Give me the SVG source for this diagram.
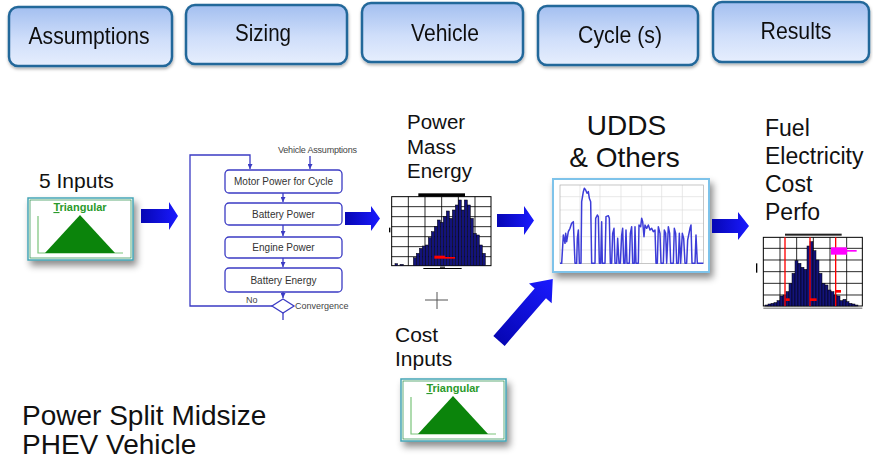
<svg xmlns="http://www.w3.org/2000/svg" width="873" height="470" viewBox="0 0 873 470">
<defs>
<style>
.btn{fill:url(#btnG);stroke:#23679a;stroke-width:2.5}
.bt{font-family:"Liberation Sans",Arial,sans-serif;font-size:24px;fill:#111;text-anchor:middle}
.lbl{font-family:"Liberation Sans",Arial,sans-serif;fill:#111}
.fbox{fill:#fff;stroke:#3b3bc4;stroke-width:1.3}
.ft{font-family:"Liberation Sans",Arial,sans-serif;font-size:10px;fill:#333;text-anchor:middle}
.fs{font-family:"Liberation Sans",Arial,sans-serif;font-size:9px;fill:#444}
.fl{fill:none;stroke:#3b3bc4;stroke-width:1.3}
.arr{fill:url(#arrG)}
.bar{fill:#13137a;stroke:#000;stroke-width:1.5}
.grid{stroke:#000;stroke-width:2.5}
.cg{stroke:#dcdcdc;stroke-width:2}
</style>
<linearGradient id="btnG" x1="0" y1="0" x2="0" y2="1">
<stop offset="0" stop-color="#a3bff0"/>
<stop offset="0.55" stop-color="#cfdefa"/>
<stop offset="1" stop-color="#e6eefd"/>
</linearGradient>
<linearGradient id="arrG" x1="0" y1="0" x2="1" y2="0">
<stop offset="0" stop-color="#0606b4"/>
<stop offset="1" stop-color="#1a1aff"/>
</linearGradient>
<filter id="sh" x="-20%" y="-20%" width="150%" height="160%">
<feDropShadow dx="3" dy="5" stdDeviation="3.5" flood-color="#000" flood-opacity="0.45"/>
</filter>
<filter id="bsh" x="-10%" y="-10%" width="120%" height="140%">
<feDropShadow dx="0.5" dy="2" stdDeviation="1.5" flood-color="#000" flood-opacity="0.3"/>
</filter>
<marker id="ah" viewBox="0 0 6 6" refX="6" refY="3" markerWidth="5" markerHeight="5" markerUnits="userSpaceOnUse" orient="auto">
<path d="M0,0 L6,3 L0,6 z" fill="#3b3bc4"/>
</marker>
<g id="tri">
<rect x="0" y="0" width="105" height="62" fill="#fff" stroke="#45a5b5" stroke-width="1.5" filter="url(#sh)"/>
<rect x="2" y="2" width="101" height="58" fill="none" stroke="#3c9a5a" stroke-width="0.8"/>
<text x="52" y="13" text-anchor="middle" font-family="'Liberation Sans',Arial,sans-serif" font-size="11" font-weight="bold" fill="#2a9a2a"><tspan text-decoration="underline">T</tspan>riangular</text>
<polyline points="10,18 10,55 95,55" fill="none" stroke="#7ac47a" stroke-width="1.2"/>
<polygon points="17,55 52,17 87,55" fill="#0b840b"/>
</g>
</defs>
<rect width="873" height="470" fill="#fff"/>

<!-- Top buttons -->
<g id="btn-assumptions" filter="url(#bsh)">
<rect class="btn" x="9" y="7" width="163" height="59" rx="9"/>
<text class="bt" x="89" y="44" textLength="121" lengthAdjust="spacingAndGlyphs">Assumptions</text>
</g>
<g id="btn-sizing" filter="url(#bsh)">
<rect class="btn" x="186" y="5" width="161" height="59" rx="9"/>
<text class="bt" x="263" y="41" textLength="56" lengthAdjust="spacingAndGlyphs">Sizing</text>
</g>
<g id="btn-vehicle" filter="url(#bsh)">
<rect class="btn" x="362" y="3" width="161" height="59" rx="9"/>
<text class="bt" x="445" y="41" textLength="68" lengthAdjust="spacingAndGlyphs">Vehicle</text>
</g>
<g id="btn-cycle" filter="url(#bsh)">
<rect class="btn" x="538" y="6" width="160" height="59" rx="9"/>
<text class="bt" x="620" y="43" textLength="84" lengthAdjust="spacingAndGlyphs">Cycle (s)</text>
</g>
<g id="btn-results" filter="url(#bsh)">
<rect class="btn" x="713" y="2" width="156" height="60" rx="9"/>
<text class="bt" x="796" y="39" textLength="71" lengthAdjust="spacingAndGlyphs">Results</text>
</g>

<!-- 5 inputs -->
<g id="inputs5">
<text class="lbl" x="39" y="188" font-size="21">5 Inputs</text>
<use href="#tri" transform="translate(28,198)"/>
</g>

<!-- Sizing flowchart -->
<g id="sizing-flow">
<rect class="fbox" x="225" y="170" width="117" height="23" rx="4"/>
<text class="ft" x="283.5" y="185">Motor Power for Cycle</text>
<rect class="fbox" x="225" y="203" width="117" height="22" rx="4"/>
<text class="ft" x="283.5" y="218">Battery Power</text>
<rect class="fbox" x="225" y="237" width="117" height="21" rx="4"/>
<text class="ft" x="283.5" y="251">Engine Power</text>
<rect class="fbox" x="225" y="268" width="117" height="24" rx="4"/>
<text class="ft" x="283.5" y="284">Battery Energy</text>
<polygon points="283,299 294,306 283,313 272,306" fill="#fff" stroke="#3b3bc4" stroke-width="1.3"/>
<text class="fs" x="278" y="153" letter-spacing="-0.2">Vehicle Assumptions</text>
<text class="fs" x="246" y="303">No</text>
<text class="fs" x="295" y="309">Convergence</text>
</g>

<!-- Power/Mass/Energy histogram -->
<g id="vehicle-hist">
<text class="lbl" x="407" y="129" font-size="20.5">Power</text>
<text class="lbl" x="407" y="153.5" font-size="20.5">Mass</text>
<text class="lbl" x="407" y="178" font-size="20.5">Energy</text>
<g transform="translate(385,185) scale(0.33333)">
<rect x="20" y="35" width="298" height="207" fill="#fff" stroke="#000" stroke-width="3"/>
<g class="grid">
<line x1="70" y1="35" x2="70" y2="242"/><line x1="120" y1="35" x2="120" y2="242"/><line x1="170" y1="35" x2="170" y2="242"/><line x1="220" y1="35" x2="220" y2="242"/><line x1="270" y1="35" x2="270" y2="242"/>
<line x1="20" y1="65" x2="318" y2="65"/><line x1="20" y1="95" x2="318" y2="95"/><line x1="20" y1="125" x2="318" y2="125"/><line x1="20" y1="155" x2="318" y2="155"/><line x1="20" y1="185" x2="318" y2="185"/><line x1="20" y1="215" x2="318" y2="215"/>
</g>
<rect x="100" y="25" width="140" height="10" fill="#000"/>
<g class="bar">
<rect x="85" y="218" width="9" height="24"/><rect x="94" y="205" width="9" height="37"/><rect x="103" y="190" width="9" height="52"/><rect x="112" y="183" width="9" height="59"/><rect x="121" y="180" width="9" height="62"/><rect x="130" y="158" width="9" height="84"/><rect x="139" y="140" width="9" height="102"/><rect x="148" y="125" width="9" height="117"/><rect x="157" y="105" width="9" height="137"/><rect x="166" y="112" width="9" height="130"/><rect x="175" y="95" width="9" height="147"/><rect x="184" y="78" width="9" height="164"/><rect x="193" y="100" width="9" height="142"/><rect x="202" y="75" width="9" height="167"/><rect x="211" y="60" width="9" height="182"/><rect x="220" y="45" width="9" height="197"/><rect x="229" y="75" width="9" height="167"/><rect x="238" y="45" width="9" height="197"/><rect x="247" y="60" width="9" height="182"/><rect x="256" y="100" width="9" height="142"/><rect x="265" y="145" width="9" height="97"/><rect x="274" y="150" width="9" height="92"/><rect x="283" y="180" width="9" height="62"/><rect x="292" y="205" width="9" height="37"/>
<rect x="30" y="236" width="8" height="6"/><rect x="45" y="238" width="10" height="4"/>
</g>
<rect x="148" y="212" width="32" height="9" fill="#f00"/>
<rect x="180" y="216" width="30" height="5" fill="#f00"/>
<rect x="115" y="249" width="115" height="3" fill="#000"/>
<rect x="165" y="245" width="15" height="3" fill="#000"/>
<rect x="12" y="128" width="4" height="14" fill="#000"/>
</g>
</g>

<!-- UDDS cycle chart -->
<g id="cycle-chart">
<text class="lbl" x="626.5" y="135" font-size="28" text-anchor="middle">UDDS</text>
<text class="lbl" x="624.5" y="167" font-size="28" text-anchor="middle">&amp; Others</text>
<rect x="553" y="179" width="156" height="93" fill="#fff" stroke="#7ec3ea" stroke-width="2" filter="url(#sh)"/>
<g transform="translate(545,175) scale(0.33333)">
<g class="cg">
<line x1="105" y1="30" x2="105" y2="265"/><line x1="165" y1="30" x2="165" y2="265"/><line x1="228" y1="30" x2="228" y2="265"/><line x1="290" y1="30" x2="290" y2="265"/><line x1="350" y1="30" x2="350" y2="265"/><line x1="412" y1="30" x2="412" y2="265"/>
<line x1="45" y1="65" x2="475" y2="65"/><line x1="45" y1="105" x2="475" y2="105"/><line x1="45" y1="145" x2="475" y2="145"/><line x1="45" y1="185" x2="475" y2="185"/><line x1="45" y1="225" x2="475" y2="225"/>
</g>
<rect x="45" y="30" width="430" height="235" fill="none" stroke="#aaa" stroke-width="2"/>
<polyline fill="none" stroke="#3c3cd8" stroke-width="4.5" stroke-linejoin="round" points="45,265 50,265 55,180 60,205 62,175 65,200 70,170 75,160 80,145 85,140 90,265 95,265 97,190 100,165 103,265 108,265 110,80 115,50 118,40 122,45 126,55 130,50 133,70 137,80 140,265 150,265 152,130 157,120 160,125 163,265 167,265 170,140 172,265 180,265 183,125 190,122 193,130 196,265 200,265 203,175 207,160 210,265 215,265 218,190 222,265 226,265 230,180 233,160 236,265 240,265 243,165 246,265 253,265 256,175 260,155 263,265 268,265 270,155 273,265 280,265 282,150 287,155 290,130 293,140 297,185 300,150 305,160 310,150 315,165 320,160 325,170 330,165 333,265 337,265 340,155 345,175 348,265 355,265 358,165 362,175 365,265 370,155 374,175 377,265 385,265 388,160 392,175 395,265 400,265 403,175 407,265 412,175 416,190 420,265 425,265 428,195 432,175 435,160 438,150 441,265 450,265 453,180 457,265 475,265"/>
</g>
</g>

<!-- Results -->
<g id="results-hist">
<text class="lbl" x="765" y="136" font-size="23">Fuel</text>
<text class="lbl" x="765" y="164" font-size="23">Electricity</text>
<text class="lbl" x="765" y="192" font-size="23">Cost</text>
<text class="lbl" x="765" y="220" font-size="23">Perfo</text>
<g transform="translate(755,230) scale(0.33333)">
<rect x="25" y="22" width="297" height="206" fill="#fff" stroke="#000" stroke-width="3"/>
<g class="grid">
<line x1="75" y1="22" x2="75" y2="228"/><line x1="125" y1="22" x2="125" y2="228"/><line x1="175" y1="22" x2="175" y2="228"/><line x1="225" y1="22" x2="225" y2="228"/><line x1="275" y1="22" x2="275" y2="228"/>
<line x1="25" y1="55" x2="322" y2="55"/><line x1="25" y1="90" x2="322" y2="90"/><line x1="25" y1="125" x2="322" y2="125"/><line x1="25" y1="160" x2="322" y2="160"/><line x1="25" y1="195" x2="322" y2="195"/>
</g>
<rect x="90" y="11" width="170" height="6" fill="#222"/>
<g class="bar">
<rect x="30" y="225" width="9" height="3"/><rect x="39" y="222" width="9" height="6"/><rect x="48" y="220" width="9" height="8"/><rect x="57" y="218" width="9" height="10"/><rect x="66" y="212" width="9" height="16"/><rect x="75" y="198" width="9" height="30"/><rect x="84" y="195" width="9" height="33"/><rect x="93" y="185" width="9" height="43"/><rect x="102" y="160" width="9" height="68"/><rect x="111" y="130" width="9" height="98"/><rect x="120" y="92" width="9" height="136"/><rect x="129" y="100" width="9" height="128"/><rect x="138" y="112" width="9" height="116"/><rect x="147" y="118" width="9" height="110"/><rect x="156" y="48" width="9" height="180"/><rect x="165" y="35" width="9" height="193"/><rect x="174" y="62" width="9" height="166"/><rect x="183" y="90" width="9" height="138"/><rect x="192" y="130" width="9" height="98"/><rect x="201" y="160" width="9" height="68"/><rect x="210" y="165" width="9" height="63"/><rect x="219" y="180" width="9" height="48"/><rect x="228" y="185" width="9" height="43"/><rect x="237" y="195" width="9" height="33"/><rect x="246" y="198" width="9" height="30"/><rect x="255" y="212" width="9" height="16"/><rect x="264" y="208" width="9" height="20"/><rect x="273" y="215" width="9" height="13"/><rect x="282" y="220" width="9" height="8"/><rect x="291" y="222" width="9" height="6"/><rect x="300" y="225" width="9" height="3"/>
</g>
<g stroke="#f00" stroke-width="4">
<line x1="90" y1="22" x2="90" y2="228"/><line x1="165" y1="22" x2="165" y2="228"/><line x1="242" y1="22" x2="242" y2="228"/>
</g>
<rect x="92" y="205" width="12" height="8" fill="#f00"/>
<rect x="165" y="205" width="20" height="8" fill="#f00"/>
<rect x="242" y="180" width="16" height="8" fill="#f00"/>
<rect x="228" y="52" width="48" height="22" fill="#f0f"/>
<rect x="228" y="60" width="77" height="5" fill="#f0f"/>
<rect x="3" y="100" width="4" height="28" fill="#000"/>
<rect x="25" y="233" width="297" height="3" fill="#666"/>
</g>
</g>

<!-- Cost inputs -->
<g id="cost-inputs">
<g stroke="#555" stroke-width="1">
<line x1="425" y1="300" x2="448" y2="300"/><line x1="437" y1="292" x2="437" y2="309"/>
</g>
<text class="lbl" x="395" y="342" font-size="21">Cost</text>
<text class="lbl" x="395" y="366" font-size="21">Inputs</text>
<use href="#tri" transform="translate(401,379)"/>
</g>

<!-- Title -->
<g id="title">
<text class="lbl" x="22" y="425" font-size="28">Power Split Midsize</text>
<text class="lbl" x="22" y="454" font-size="28">PHEV Vehicle</text>
</g>

<!-- Connectors -->
<g id="connectors">
<path class="fl" d="M272,306 H190 V155 H250 V169" marker-end="url(#ah)"/>
<path class="fl" d="M310,156 V169" marker-end="url(#ah)"/>
<path class="fl" d="M283,193 V202" marker-end="url(#ah)"/>
<path class="fl" d="M283,225 V236" marker-end="url(#ah)"/>
<path class="fl" d="M283,258 V267" marker-end="url(#ah)"/>
<path class="fl" d="M283,292 V298" marker-end="url(#ah)"/>
<path class="fl" d="M283,313 V320"/>
<path class="arr" d="M141,209 H169 V202 L178,216 L169,230 V223 H141 Z"/>
<path class="arr" d="M345,212 H371 V206 L380,218.5 L371,231 V225 H345 Z"/>
<path class="arr" d="M497,214 H524 V206 L534,220.5 L524,235 V227 H497 Z"/>
<path class="arr" d="M712,219 H738 V212 L749,226 L738,240 V233 H712 Z"/>
<path class="arr" transform="translate(499,341) rotate(-49)" d="M0,-7.5 H63 V-15 L82,0 L63,15 V7.5 H0 Z"/>
</g>
</svg>
